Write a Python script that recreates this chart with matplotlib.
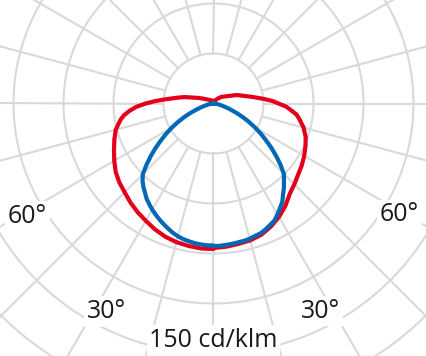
import numpy as np
import matplotlib
matplotlib.use("Agg")
import matplotlib.pyplot as plt

# gamma angles (deg from nadir) and intensities (cd/klm)
gamma_red = [0, 5, 10, 15, 20, 25, 30, 35, 40, 45, 50, 55, 60, 65, 70, 75, 80, 82.5,
             85, 87.5, 90, 92.5, 95, 97.5, 100, 102.5, 105, 107.5, 110, 115, 120, 125,
             130, 140, 150, 160, 170, 180]
red_left = [145.5, 145.5, 144.6, 143.5, 141.6, 138.8, 135.4, 132.5, 129.2, 125.6, 122.9,
            119.4, 114.6, 109.8, 105.5, 101.2, 94.5, 90.3, 84.3, 77.4, 67.8, 57.8, 48.3,
            40.4, 34.7, 29.6, 23.3, 19.2, 16.4, 11.6, 8.6, 6.8, 5.7, 4.4, 3.5, 3, 2.5, 2]
red_right = [144.5, 143.8, 142.6, 141.7, 139.7, 135.8, 131, 125.2, 118.4, 114.3, 110.5,
             107.8, 104.7, 101.5, 98.1, 93.3, 86.9, 83.6, 77.9, 72.8, 65, 58.8, 51.2,
             44, 38.5, 33.8, 30.1, 27.2, 24.8, 18.1, 14.4, 12, 10.4, 6.2, 3.9, 2.9, 2.3, 2]

gamma_blue = [0, 2.5, 5, 7.5, 10, 12.5, 15, 17.5, 20, 22.5, 25, 27.5, 30, 32.5, 35, 37.5,
              40, 42.5, 45, 47.5, 50, 52.5, 55, 57.5, 60, 62.5, 65, 67.5, 70, 72.5, 75,
              77.5, 80, 82.5, 85, 87.5, 90]
blue_left = [142, 142, 141.5, 141, 140, 139, 137.5, 135.5, 133, 130.5, 128, 125.3, 122.5,
             119.5, 116.5, 112.5, 109, 105, 100, 91, 82, 73, 64, 56, 48, 40, 32.5,
             25.5, 19, 14, 10, 7, 4.5, 3, 1.5, 0.5, 0]
blue_right = [142.5, 142.5, 142, 141.6, 141, 140.7, 140, 138.8, 138, 136.2, 134, 132, 128,
              123.8, 120, 114.3, 109.6, 104.3, 99.5, 91, 82, 73, 64, 56, 48, 40, 32.5,
              25.5, 19, 14, 10, 7, 4.5, 3, 1.5, 0.5, 0]

rings = [50, 100, 150, 200, 250, 300]
spokes = np.arange(0, 360, 15)

labels = ["60°", "60°", "30°", "30°", "150 cd/klm"]
label_theta = [-57.3, 57.6, -26.5, 26.6, 0]
label_r = [221, 220, 239.5, 239.5, 243.5]

RED = "#e2001a"
BLUE = "#0068b4"
GRID = "#d9d9d9"

W, H = 427, 356
cx, cy = 213.5, 103.5   # centre of diagram in pixels (from top-left)
rmax = 340

fig = plt.figure(figsize=(W / 100, H / 100), dpi=100)
ax = fig.add_axes([(cx - rmax) / W, (H - cy - rmax) / H, 2 * rmax / W, 2 * rmax / H],
                  projection="polar")
ax.set_theta_zero_location("S")
ax.set_theta_direction(1)
ax.set_ylim(0, rmax)
ax.grid(False)
ax.set_xticks([])
ax.set_yticks([])
ax.spines["polar"].set_visible(False)
ax.patch.set_alpha(0)

# grid
tt = np.linspace(0, 2 * np.pi, 721)
for r in rings:
    ax.plot(tt, np.full_like(tt, r), color=GRID, lw=1.5, zorder=1)
for s in spokes:
    ax.plot([np.radians(s)] * 2, [rings[0], rmax], color=GRID, lw=1.5, zorder=1)

# curves: left half = negative gamma, right half = positive gamma
g = np.radians(gamma_red)
th = np.concatenate([-g[::-1], g])
rr = np.concatenate([np.array(red_left)[::-1], red_right])
ax.plot(th, rr, color=RED, lw=3, zorder=3, solid_joinstyle="round")

g = np.radians(gamma_blue)
th = np.concatenate([-g[::-1], g])
rr = np.concatenate([np.array(blue_left)[::-1], blue_right])
ax.plot(th, rr, color=BLUE, lw=3, zorder=4, solid_joinstyle="round")

for txt, t, r in zip(labels, label_theta, label_r):
    ax.text(np.radians(t), r, txt, ha="center", va="baseline", fontsize=18,
            family="Open Sans", color="#1a1a1a", zorder=5,
            bbox=dict(facecolor="white", edgecolor="none", pad=2))

fig.savefig("out.png", dpi=100)
